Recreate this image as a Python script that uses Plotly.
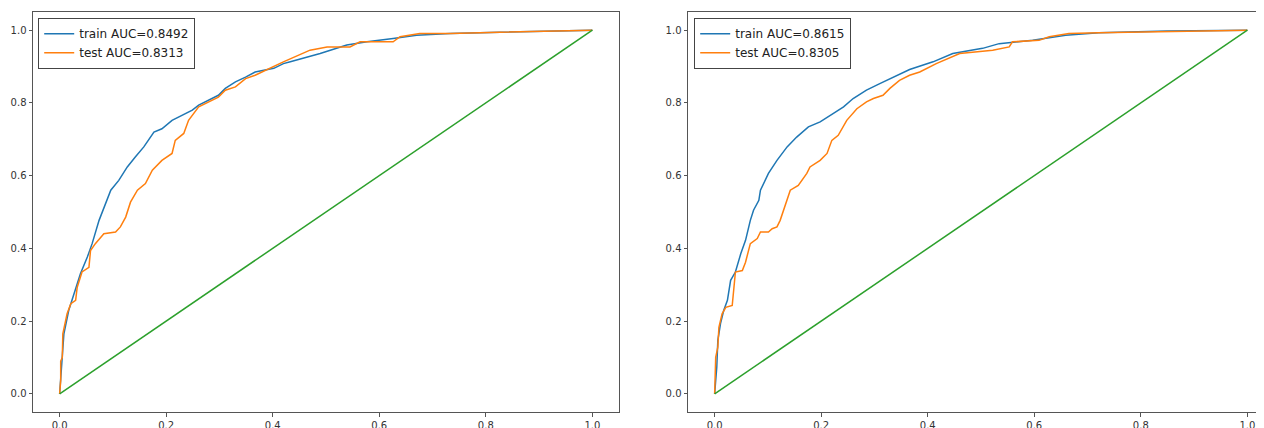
import plotly.graph_objects as go
from plotly.subplots import make_subplots

# ---- data ----
left_train_fpr = [0, 0.005, 0.008, 0.017, 0.027, 0.039, 0.052, 0.061, 0.074, 0.089, 0.096, 0.111, 0.127, 0.142,
                  0.158, 0.177, 0.192, 0.211, 0.230, 0.249, 0.261, 0.280, 0.298, 0.311, 0.330, 0.349, 0.367,
                  0.402, 0.420, 0.433, 0.489, 0.539, 0.577, 0.626, 0.670, 0.733, 0.864, 0.926, 1.0]
left_train_tpr = [0, 0.10, 0.165, 0.229, 0.275, 0.33, 0.376, 0.413, 0.477, 0.532, 0.560, 0.587, 0.624, 0.651,
                  0.679, 0.720, 0.729, 0.752, 0.766, 0.780, 0.794, 0.807, 0.821, 0.840, 0.858, 0.871, 0.885,
                  0.895, 0.908, 0.913, 0.936, 0.959, 0.968, 0.977, 0.986, 0.991, 0.995, 0.998, 1.0]
left_test_fpr = [0, 0.002, 0.002, 0.005, 0.006, 0.014, 0.021, 0.030, 0.033, 0.042, 0.055, 0.058, 0.067, 0.083,
                 0.105, 0.114, 0.124, 0.133, 0.146, 0.161, 0.174, 0.192, 0.211, 0.217, 0.233, 0.242, 0.261,
                 0.280, 0.298, 0.311, 0.330, 0.349, 0.367, 0.420, 0.470, 0.502, 0.545, 0.564, 0.626, 0.639,
                 0.676, 0.733, 0.864, 1.0]
left_test_tpr = [0, 0.037, 0.09, 0.10, 0.165, 0.22, 0.248, 0.257, 0.293, 0.335, 0.348, 0.394, 0.413, 0.440,
                 0.445, 0.459, 0.486, 0.527, 0.560, 0.578, 0.615, 0.642, 0.661, 0.697, 0.716, 0.752, 0.789,
                 0.803, 0.816, 0.835, 0.844, 0.867, 0.876, 0.913, 0.945, 0.954, 0.954, 0.968, 0.968, 0.982,
                 0.991, 0.991, 0.995, 1.0]

right_train_fpr = [0, 0.004, 0.006, 0.011, 0.017, 0.024, 0.030, 0.039, 0.049, 0.058, 0.067, 0.073, 0.083,
                   0.086, 0.101, 0.117, 0.136, 0.154, 0.176, 0.198, 0.223, 0.242, 0.260, 0.285, 0.310, 0.335,
                   0.366, 0.410, 0.447, 0.503, 0.534, 0.597, 0.659, 0.721, 0.85, 0.95, 1.0]
right_train_tpr = [0, 0.073, 0.147, 0.193, 0.229, 0.257, 0.312, 0.335, 0.385, 0.422, 0.477, 0.505, 0.532,
                   0.560, 0.606, 0.642, 0.679, 0.706, 0.734, 0.748, 0.771, 0.789, 0.812, 0.835, 0.853, 0.871,
                   0.892, 0.913, 0.936, 0.950, 0.963, 0.972, 0.986, 0.993, 0.998, 0.999, 1.0]
right_test_fpr = [0, 0.002, 0.006, 0.008, 0.014, 0.021, 0.033, 0.037, 0.039, 0.052, 0.058, 0.067, 0.080,
                  0.086, 0.101, 0.108, 0.117, 0.123, 0.136, 0.142, 0.157, 0.173, 0.179, 0.198, 0.211, 0.220,
                  0.232, 0.248, 0.267, 0.285, 0.298, 0.316, 0.329, 0.347, 0.366, 0.385, 0.416, 0.460, 0.522,
                  0.553, 0.559, 0.609, 0.628, 0.665, 0.721, 0.827, 1.0]
right_test_tpr = [0, 0.10, 0.128, 0.183, 0.220, 0.238, 0.243, 0.303, 0.335, 0.339, 0.362, 0.413, 0.427,
                  0.445, 0.445, 0.454, 0.459, 0.477, 0.532, 0.560, 0.573, 0.606, 0.624, 0.642, 0.661, 0.697,
                  0.711, 0.752, 0.784, 0.803, 0.812, 0.821, 0.840, 0.862, 0.876, 0.885, 0.908, 0.936, 0.945,
                  0.954, 0.968, 0.972, 0.982, 0.991, 0.993, 0.995, 1.0]

diag = [0, 1]
left_labels = ["train AUC=0.8492", "test AUC=0.8313"]
right_labels = ["train AUC=0.8615", "test AUC=0.8305"]
tick_vals = [0.0, 0.2, 0.4, 0.6, 0.8, 1.0]
tick_text = ["0.0", "0.2", "0.4", "0.6", "0.8", "1.0"]

BLUE, ORANGE, GREEN = "#1f77b4", "#ff7f0e", "#2ca02c"

fig = make_subplots(rows=1, cols=2)

def add(col, fpr, tpr, name, color, legend, show=True):
    fig.add_trace(go.Scatter(x=fpr, y=tpr, mode="lines", name=name, showlegend=show,
                             line=dict(color=color, width=1.5), legend=legend), row=1, col=col)

add(1, left_train_fpr, left_train_tpr, left_labels[0], BLUE, "legend")
add(1, left_test_fpr, left_test_tpr, left_labels[1], ORANGE, "legend")
add(1, diag, diag, "diag", GREEN, "legend", False)
add(2, right_train_fpr, right_train_tpr, right_labels[0], BLUE, "legend2")
add(2, right_test_fpr, right_test_tpr, right_labels[1], ORANGE, "legend2")
add(2, diag, diag, "diag", GREEN, "legend2", False)

axis_common = dict(range=[-0.05, 1.05], tickvals=tick_vals, ticktext=tick_text, showgrid=False, zeroline=False,
                   showline=True, mirror=True, linecolor="#555", linewidth=1, ticks="outside", ticklen=3.5,
                   tickcolor="#555", tickfont=dict(family="DejaVu Sans", size=10, color="#333"))
fig.update_xaxes(**axis_common)
fig.update_yaxes(**axis_common)

# page body has an 8px margin: work in figure coordinates (= window - 8)
# the reference is cropped on the right: the right panel extends past the window edge
OFF = 8
RIGHT_EDGE = 1274
W, H = RIGHT_EDGE - OFF + 1, 428 - OFF
PL, PR, PT, PB = 33 - OFF, 1, 12 - OFF, 16
pw, ph = W - PL - PR, H - PT - PB
fig.update_layout(xaxis=dict(domain=[0, (619 - OFF - PL) / pw]),
                  xaxis2=dict(domain=[(688 - OFF - PL) / pw, 1.0]))

legend_common = dict(xref="paper", yref="paper", xanchor="left", yanchor="top",
                     bgcolor="rgba(255,255,255,0.8)", bordercolor="#444", borderwidth=1.2,
                     font=dict(family="DejaVu Sans", size=12, color="#222"), tracegroupgap=0)
fig.update_layout(
    width=W, height=H,
    margin=dict(l=PL, r=PR, t=PT, b=PB, autoexpand=False),
    paper_bgcolor="white", plot_bgcolor="white",
    legend=dict(x=(38 - OFF - PL) / pw, y=1 - (18 - OFF - PT) / ph, **legend_common),
    legend2=dict(x=(694 - OFF - PL) / pw, y=1 - (18 - OFF - PT) / ph, **legend_common),
)

fig.write_html("out.html")
